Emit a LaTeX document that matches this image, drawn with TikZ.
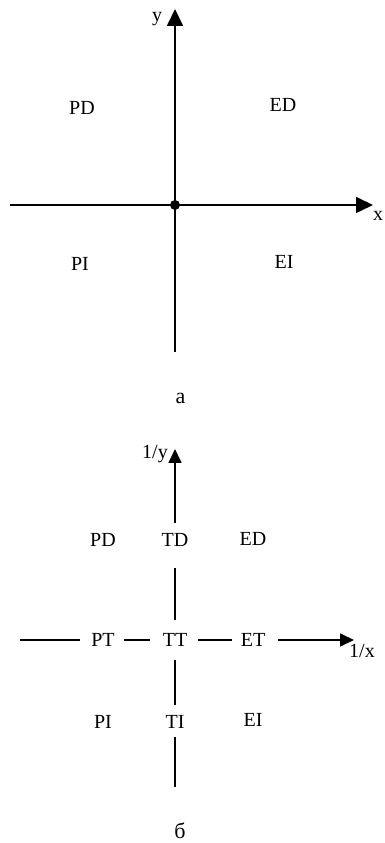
\documentclass[tikz,border=0pt]{standalone}
\usepackage{fontspec}
\setmainfont{Liberation Serif}
\usetikzlibrary{arrows.meta}
\begin{document}
\begin{tikzpicture}[x=1pt,y=1pt,
  axis/.style={line width=1.7pt},
  bigtip/.style={-{Triangle[length=17pt,width=16pt]}},
  smalltip/.style={-{Triangle[length=14pt,width=13pt]}},
  lbl/.style={inner sep=0pt,font=\fontsize{20}{22}\selectfont},
  captxt/.style={inner sep=0pt,font=\fontsize{22}{24}\selectfont}]
\useasboundingbox (0,0) rectangle (384,843);
% ---- top diagram (a)
\coordinate (O) at (175,638);
\coordinate (L) at (10,638);
\coordinate (X) at (373,638);
\coordinate (Y) at (175,834);
\coordinate (B) at (175,491);
\draw[axis] (O) -- (B);
\draw[axis] (L) -- (O);
\draw[axis,bigtip] (O) -- (X);
\draw[axis,bigtip] (O) -- (Y);
\fill (O) circle (5pt);
\node[lbl] (ylab) at (157,824) {y};
\node[lbl] (xlab) at (378,627) {x};
\node[lbl] (PDa) at (82,735) {PD};
\node[lbl] (EDa) at (283,738) {ED};
\node[lbl] (PIa) at (80,579) {PI};
\node[lbl] (EIa) at (284,581) {EI};
\node[captxt] (capa) at (180.5,445) {а};
% ---- bottom diagram (б)
\node[lbl] (PD) at (103,303) {PD};
\node[lbl] (TD) at (175,303) {TD};
\node[lbl] (ED) at (253,304) {ED};
\node[lbl] (PT) at (103,203) {PT};
\node[lbl] (TT) at (175,203) {TT};
\node[lbl] (ET) at (253,203) {ET};
\node[lbl] (PI) at (103,121) {PI};
\node[lbl] (TI) at (175,121) {TI};
\node[lbl] (EI) at (253,123) {EI};
\coordinate (Ytip) at (175,394);
\coordinate (Xtip) at (354,203);
\coordinate (Lb) at (20,203);
\coordinate (Bb) at (175,56);
\node[lbl] (invy) at (155,389) {1/y};
\node[lbl] (invx) at (362,192) {1/x};
\draw[axis,smalltip] ([yshift=17pt]TD.center) -- (Ytip);
\draw[axis] ([yshift=20pt]TT.center) -- ([yshift=-28pt]TD.center);
\draw[axis] ([yshift=-20pt]TT.center) -- ([yshift=17pt]TI.center);
\draw[axis] ([yshift=-15pt]TI.center) -- (Bb);
\draw[axis] (Lb) -- ([xshift=-23pt]PT.center);
\draw[axis] ([xshift=21pt]PT.center) -- ([xshift=-25pt]TT.center);
\draw[axis] ([xshift=23pt]TT.center) -- ([xshift=-21pt]ET.center);
\draw[axis,smalltip] ([xshift=25pt]ET.center) -- (Xtip);
\node[captxt] (capb) at (180,12) {б};
\end{tikzpicture}
\end{document}
